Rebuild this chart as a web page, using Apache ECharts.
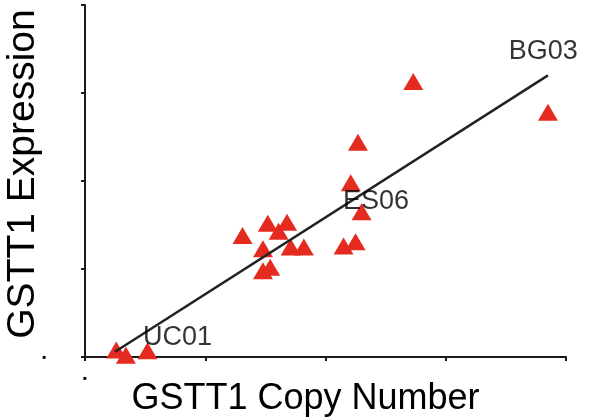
<!DOCTYPE html>
<html><head><meta charset="utf-8">
<script src="https://cdn.jsdelivr.net/npm/echarts@6/dist/echarts.min.js"></script>
<style>html,body{margin:0;padding:0;background:#fff}#c{width:592px;height:420px}</style>
</head><body><div id="c"></div>
<script>
// Copy number (x) and expression (y) for each sample
const copyNumber = [0.26, 0.34, 0.52, 1.31, 1.52, 1.68, 1.61, 1.48, 1.71, 1.82, 1.48, 1.54, 2.15, 2.25, 2.30, 2.21, 2.27, 2.73, 3.85];
const expression = [0.08, 0.02, 0.07, 1.38, 1.52, 1.53, 1.43, 1.23, 1.25, 1.25, 0.98, 1.02, 1.26, 1.31, 1.65, 1.98, 2.44, 3.13, 2.78];
// Regression line endpoints
const fitX = [0.25, 3.85];
const fitY = [0.06, 3.20];
// Labelled samples
const labelNames = ['UC01', 'ES06', 'BG03'];
const labelX = [0.77, 2.42, 3.81];
const labelY = [0.22, 1.77, 3.47];
// Axis ticks
const xTicks = [0, 1, 2, 3, 4];
const yTicks = [0, 1, 2, 3, 4];
const xTitle = 'GSTT1 Copy Number';
const yTitle = 'GSTT1 Expression';

const font = 'Liberation Sans, Arial, sans-serif';
const chart = echarts.init(document.getElementById('c'));
const axisCommon = {
  type: 'value', splitLine: {show: false},
  axisLine: {show: true, onZero: false, lineStyle: {color: '#1a1a1a', width: 2}},
  axisTick: {show: true, length: 4, lineStyle: {color: '#1a1a1a', width: 2}},
  nameMoveOverlap: false,
  nameTextStyle: {fontFamily: font, color: '#000'}
};
chart.setOption({
  animation: false,
  grid: {left: 85, right: 26, top: 5, bottom: 63, containLabel: false, outerBoundsMode: 'none'},
  xAxis: Object.assign({}, axisCommon, {
    min: xTicks[0], max: xTicks[xTicks.length - 1], interval: 1,
    name: xTitle, nameLocation: 'middle', nameGap: 24,
    nameTextStyle: {fontFamily: font, color: '#000', fontSize: 36, padding: [0, 40, 0, 0]},
    axisLabel: {margin: 18, fontSize: 6, color: '#000', formatter: v => v === 0 ? '■' : ''}
  }),
  yAxis: Object.assign({}, axisCommon, {
    min: yTicks[0], max: yTicks[yTicks.length - 1], interval: 1,
    name: yTitle, nameLocation: 'middle', nameGap: 42,
    nameTextStyle: {fontFamily: font, color: '#000', fontSize: 39, padding: [0, 0, 0, 14]},
    axisLabel: {margin: 39, fontSize: 6, color: '#000', formatter: v => v === 0 ? '■' : ''}
  }),
  series: [
    {
      type: 'line', data: fitX.map((x, i) => [x, fitY[i]]),
      symbol: 'none', lineStyle: {color: '#222', width: 2.5}, z: 3
    },
    {
      type: 'scatter', symbol: 'triangle', symbolSize: [20, 17],
      itemStyle: {color: '#e52b1f', opacity: 1},
      data: copyNumber.map((x, i) => [x, expression[i]]), z: 2
    },
    {
      type: 'scatter', symbolSize: 0,
      data: labelNames.map((n, i) => ({name: n, value: [labelX[i], labelY[i]]})),
      label: {show: true, position: 'inside', formatter: p => p.name,
        fontFamily: font, fontSize: 27, color: '#000', textBorderWidth: 0},
      z: 4
    }
  ]
});
</script></body></html>
